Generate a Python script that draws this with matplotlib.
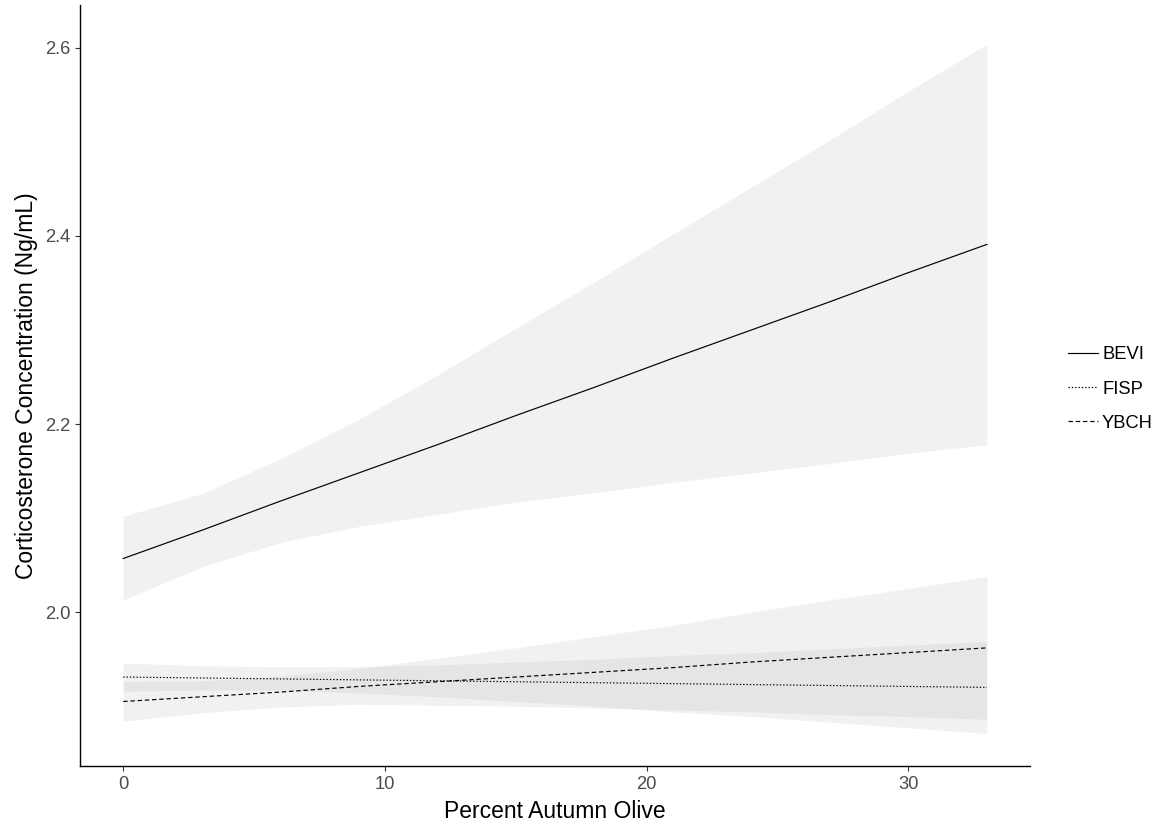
import matplotlib
matplotlib.use('Agg')
import matplotlib.pyplot as plt

plt.rcParams['font.family'] = ['Liberation Sans', 'DejaVu Sans']
plt.rcParams['lines.scale_dashes'] = False

# Values
x = [0, 3, 6, 9, 12, 15, 18, 21, 24, 27, 30, 33]

bevi = [2.057, 2.087, 2.118, 2.148, 2.178, 2.209, 2.239, 2.270, 2.300, 2.330, 2.361, 2.391]
bevi_lo = [2.013, 2.048, 2.074, 2.091, 2.104, 2.117, 2.127, 2.138, 2.148, 2.158, 2.169, 2.178]
bevi_hi = [2.102, 2.126, 2.163, 2.205, 2.252, 2.302, 2.351, 2.402, 2.452, 2.502, 2.554, 2.604]

fisp = [1.931, 1.930, 1.929, 1.928, 1.927, 1.926, 1.925, 1.924, 1.923, 1.922, 1.921, 1.920]
fisp_lo = [1.916, 1.917, 1.917, 1.914, 1.910, 1.905, 1.900, 1.894, 1.889, 1.883, 1.877, 1.871]
fisp_hi = [1.946, 1.943, 1.942, 1.942, 1.944, 1.947, 1.950, 1.954, 1.957, 1.961, 1.965, 1.969]

ybch = [1.905, 1.910, 1.915, 1.921, 1.926, 1.931, 1.936, 1.941, 1.947, 1.952, 1.957, 1.962]
ybch_lo = [1.884, 1.893, 1.899, 1.902, 1.901, 1.900, 1.898, 1.896, 1.894, 1.891, 1.889, 1.886]
ybch_hi = [1.926, 1.927, 1.932, 1.940, 1.951, 1.962, 1.974, 1.986, 2.000, 2.013, 2.025, 2.038]

labels = ['BEVI', 'FISP', 'YBCH']
xticks = [0, 10, 20, 30]
yticks = [2.0, 2.2, 2.4, 2.6]

fig = plt.figure(figsize=(11.62, 8.30), dpi=100)
ax = fig.add_axes([80 / 1162, 64 / 830, 950 / 1162, 761 / 830])

series = [
    (bevi, bevi_lo, bevi_hi, '-'),
    (fisp, fisp_lo, fisp_hi, (0, (1.0, 1.4))),
    (ybch, ybch_lo, ybch_hi, (0, (3.2, 2.0))),
]

for (y, lo, hi, ls), lab in zip(series, labels):
    ax.fill_between(x, lo, hi, color='#999999', alpha=0.13, lw=0)
    ax.plot(x, y, color='black', lw=0.85, ls=ls, label=lab)

ax.set_xlim(-1.65, 34.65)
ax.set_ylim(1.8364, 2.6456)
ax.set_xticks(xticks)
ax.set_xticklabels([str(t) for t in xticks])
ax.set_yticks(yticks)
ax.set_yticklabels(['%.1f' % t for t in yticks])

for s in ['top', 'right']:
    ax.spines[s].set_visible(False)
for s in ['left', 'bottom']:
    ax.spines[s].set_linewidth(1.0)
    ax.spines[s].set_color('black')

ax.tick_params(axis='both', length=3.6, width=0.8, color='#333333',
               labelcolor='#4D4D4D', labelsize=13.2, pad=3.5)

ax.set_xlabel('Percent Autumn Olive', fontsize=16.5, labelpad=5)
ax.set_ylabel('Corticosterone Concentration (Ng/mL)', fontsize=16.5, labelpad=5)

fig.legend(loc='center left', bbox_to_anchor=(1068 / 1162, 1 - 389 / 830),
           frameon=False, fontsize=13.2, handlelength=1.64, handletextpad=0.22,
           labelspacing=0.95, borderaxespad=0, borderpad=0)

fig.savefig('out.png', dpi=100)
